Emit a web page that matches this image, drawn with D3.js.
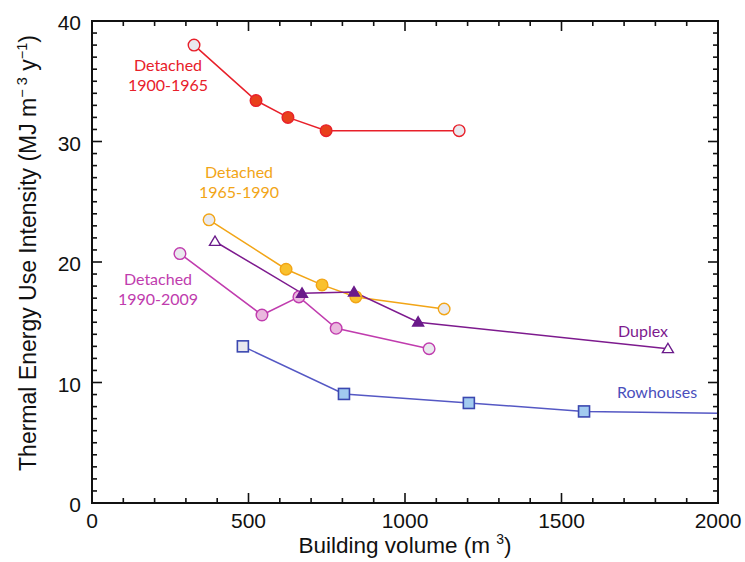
<!DOCTYPE html>
<html><head><meta charset="utf-8">
<script src="https://cdn.jsdelivr.net/npm/d3@7"></script>
<style>body{margin:0;background:#fff}svg{display:block}</style>
</head><body>
<script>
const redX = [326, 524, 626, 748, 1173];
const redY = [38.0, 33.4, 32.0, 30.9, 30.9];
const orangeX = [374, 620, 735, 843, 1125];
const orangeY = [23.5, 19.4, 18.1, 17.1, 16.1];
const magentaX = [281, 543, 661, 780, 1077];
const magentaY = [20.7, 15.6, 17.1, 14.5, 12.8];
const duplexX = [393, 671, 837, 1042, 1840];
const duplexY = [21.7, 17.4, 17.5, 15.0, 12.8];
const rowX = [482, 805, 1204, 1572, 2000];
const rowY = [13.0, 9.05, 8.3, 7.6, 7.45];
const xTicks = [0, 500, 1000, 1500, 2000];
const yTicks = [0, 10, 20, 30, 40];

const W = 745, H = 562;
const m = {l: 92, r: 27, t: 21, b: 59};
const svg = d3.select("body").append("svg").attr("width", W).attr("height", H);
const x = d3.scaleLinear().domain([0, 2000]).range([m.l, W - m.r]);
const y = d3.scaleLinear().domain([0, 40]).range([H - m.b, m.t]);

const series = [
  {xs: redX, ys: redY, line: "#e8202a", stroke: "#e8202a", fill: "#e8401c", open: "#e9e9ee", shape: "circle", openIdx: [0, 4]},
  {xs: orangeX, ys: orangeY, line: "#f2a516", stroke: "#f2a516", fill: "#f9c12e", open: "#e9e9ee", shape: "circle", openIdx: [0, 4]},
  {xs: magentaX, ys: magentaY, line: "#c03cae", stroke: "#c03cae", fill: "#eab8de", open: "#e9e9ee", shape: "circle", openIdx: [0, 4]},
  {xs: duplexX, ys: duplexY, line: "#7d1a8e", stroke: "#6a1a8a", fill: "#6a1a8a", open: "#ffffff", shape: "triangle", openIdx: [0, 4]},
  {xs: rowX, ys: rowY, line: "#5558c4", stroke: "#3b48b0", fill: "#a2cbf0", open: "#e9e9ee", shape: "square", openIdx: [0], noMarker: [4]}
];

svg.append("clipPath").attr("id", "c").append("rect")
  .attr("x", m.l).attr("y", m.t).attr("width", W - m.l - m.r).attr("height", H - m.t - m.b);

const g = svg.append("g").attr("clip-path", "url(#c)");
series.forEach(s => {
  const pts = s.xs.map((v, i) => [v, s.ys[i]]);
  g.append("path").datum(pts)
    .attr("d", d3.line().x(d => x(d[0])).y(d => y(d[1])))
    .attr("fill", "none").attr("stroke", s.line).attr("stroke-width", 1.5);
});
series.forEach(s => {
  s.xs.forEach((v, i) => {
    if (s.noMarker && s.noMarker.includes(i)) return;
    const isOpen = s.openIdx.includes(i);
    const cx = x(v), cy = y(s.ys[i]);
    const fill = isOpen ? s.open : s.fill;
    if (s.shape === "circle") {
      svg.append("circle").attr("cx", cx).attr("cy", cy).attr("r", 5.8)
        .attr("fill", fill).attr("stroke", s.stroke).attr("stroke-width", 1.4);
    } else if (s.shape === "square") {
      svg.append("rect").attr("x", cx - 5.5).attr("y", cy - 5.5).attr("width", 11).attr("height", 11)
        .attr("fill", fill).attr("stroke", s.stroke).attr("stroke-width", 1.6);
    } else {
      const r = 5.5;
      svg.append("path").attr("d", `M${cx},${cy - r}L${cx + r},${cy + r * 0.7}L${cx - r},${cy + r * 0.7}Z`)
        .attr("fill", fill).attr("stroke", s.stroke).attr("stroke-width", 1.4);
    }
  });
});

// frame & ticks
const x0 = m.l, x1 = W - m.r, y0 = H - m.b, y1 = m.t;
const ax = svg.append("g").attr("stroke", "#111").attr("stroke-width", 1.6);
d3.range(0, 2001, 100).forEach(v => {
  const len = v % 500 === 0 ? 10 : 5;
  ax.append("line").attr("x1", x(v)).attr("x2", x(v)).attr("y1", y0).attr("y2", y0 - len);
  ax.append("line").attr("x1", x(v)).attr("x2", x(v)).attr("y1", y1).attr("y2", y1 + len);
});
d3.range(0, 41, 1).forEach(v => {
  const len = v % 10 === 0 ? 10 : 5;
  ax.append("line").attr("y1", y(v)).attr("y2", y(v)).attr("x1", x0).attr("x2", x0 + len);
  ax.append("line").attr("y1", y(v)).attr("y2", y(v)).attr("x1", x1).attr("x2", x1 - len);
});
svg.append("rect").attr("x", x0).attr("y", y1).attr("width", x1 - x0).attr("height", y0 - y1)
  .attr("fill", "none").attr("stroke", "#111").attr("stroke-width", 2);

const tf = "'Liberation Sans', Arial, sans-serif";
svg.append("g").selectAll("text").data(xTicks).join("text")
  .attr("x", d => x(d)).attr("y", y0 + 25).attr("text-anchor", "middle")
  .attr("font-family", tf).attr("font-size", 21).attr("fill", "#111").text(d => d);
svg.append("g").selectAll("text").data(yTicks).join("text")
  .attr("x", x0 - 11).attr("y", d => y(d) + 9).attr("text-anchor", "end")
  .attr("font-family", tf).attr("font-size", 21).attr("fill", "#111").text(d => d);

const xt = svg.append("text").attr("x", 405).attr("y", 553).attr("text-anchor", "middle")
  .attr("font-family", tf).attr("font-size", 22.5).attr("fill", "#111");
xt.append("tspan").text("Building volume (m ");
xt.append("tspan").attr("font-size", 14).attr("dy", -9).text("3");
xt.append("tspan").attr("dy", 9).text(")");

const yt = svg.append("text").attr("transform", "translate(36,253) rotate(-90)").attr("text-anchor", "middle")
  .attr("font-family", tf).attr("font-size", 23).attr("fill", "#111");
yt.append("tspan").text("Thermal Energy Use Intensity (MJ m");
yt.append("tspan").attr("font-size", 14.5).attr("dy", -9).text("− 3");
yt.append("tspan").attr("dy", 9).text(" y");
yt.append("tspan").attr("font-size", 14.5).attr("dy", -9).text("−1");
yt.append("tspan").attr("dy", 9).text(")");

const lf = "Lato, 'Open Sans', sans-serif";
const labels = [
  {t: ["Detached", "1900-1965"], x: 168, y: 71, c: "#e8202a"},
  {t: ["Detached", "1965-1990"], x: 239, y: 178, c: "#f2a516"},
  {t: ["Detached", "1990-2009"], x: 158, y: 285, c: "#c03cae"},
  {t: ["Duplex"], x: 643, y: 337, c: "#7d1a8e"},
  {t: ["Rowhouses"], x: 657, y: 398, c: "#4a4fbc"}
];
labels.forEach(L => {
  L.t.forEach((s, i) => svg.append("text").attr("text-anchor", "middle").attr("font-family", lf)
    .attr("font-size", 16).attr("fill", L.c)
    .attr("x", L.x).attr("y", L.y + i * 19.5).text(s));
});
</script>
</body></html>
